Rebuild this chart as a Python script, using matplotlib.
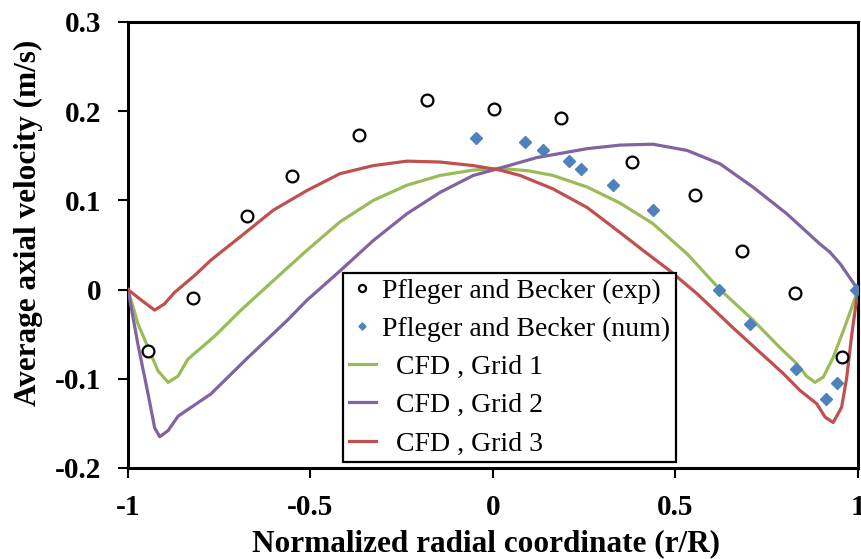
import matplotlib
matplotlib.use("Agg")
import matplotlib.pyplot as plt

# Pfleger and Becker, experimental
exp_x = [-0.945, -0.822, -0.674, -0.551, -0.367, -0.181, 0.003, 0.186,
         0.381, 0.553, 0.682, 0.827, 0.956]
exp_y = [-0.069, -0.009, 0.082, 0.127, 0.173, 0.212, 0.203, 0.192,
         0.143, 0.106, 0.043, -0.004, -0.075]

# Pfleger and Becker, numerical
num_x = [-0.047, 0.088, 0.137, 0.208, 0.241, 0.329, 0.438, 0.619,
         0.704, 0.830, 0.912, 0.942, 0.995]
num_y = [0.170, 0.166, 0.157, 0.144, 0.135, 0.117, 0.089, -0.001,
         -0.039, -0.089, -0.123, -0.105, 0.0]

# CFD, grid 1
g1_x = [-1.0, -0.973, -0.945, -0.918, -0.890, -0.863, -0.836, -0.762, -0.693,
        -0.602, -0.510, -0.419, -0.328, -0.236, -0.145, -0.054, 0.019, 0.1,
        0.164, 0.258, 0.348, 0.438, 0.532, 0.622, 0.712, 0.786, 0.832, 0.859,
        0.882, 0.905, 0.932, 0.960, 0.983, 1.0]
g1_y = [0.0, -0.038, -0.065, -0.091, -0.104, -0.097, -0.078, -0.052, -0.024,
        0.010, 0.044, 0.076, 0.100, 0.117, 0.128, 0.134, 0.136, 0.133,
        0.128, 0.115, 0.097, 0.074, 0.040, 0.0, -0.034, -0.065, -0.083, -0.097,
        -0.104, -0.098, -0.076, -0.046, -0.020, 0.0]

# CFD, grid 2
g2_x = [-1.0, -0.973, -0.945, -0.927, -0.913, -0.890, -0.863, -0.773, -0.671,
        -0.565, -0.510, -0.419, -0.328, -0.236, -0.145, -0.054, 0.0, 0.12,
        0.258, 0.348, 0.438, 0.532, 0.622, 0.712, 0.805, 0.896, 0.923, 0.951,
        1.0]
g2_y = [0.0, -0.061, -0.117, -0.155, -0.165, -0.158, -0.142, -0.117, -0.076,
        -0.035, -0.012, 0.021, 0.055, 0.085, 0.109, 0.128, 0.134, 0.148,
        0.158, 0.162, 0.163, 0.156, 0.141, 0.115, 0.085, 0.051, 0.042, 0.029,
        0.0]

# CFD, grid 3
g3_x = [-1.0, -0.963, -0.927, -0.900, -0.872, -0.817, -0.773, -0.693, -0.602,
        -0.510, -0.419, -0.328, -0.236, -0.145, -0.054, 0.019, 0.074, 0.164,
        0.258, 0.348, 0.411, 0.485, 0.560, 0.658, 0.795, 0.841, 0.887, 0.910,
        0.932, 0.955, 0.969, 0.983, 1.0]
g3_y = [0.0, -0.012, -0.023, -0.016, -0.003, 0.016, 0.033, 0.059, 0.089,
        0.111, 0.130, 0.139, 0.144, 0.143, 0.139, 0.134, 0.128, 0.113,
        0.092, 0.064, 0.044, 0.021, -0.005, -0.043, -0.094, -0.113, -0.128,
        -0.143, -0.149, -0.132, -0.099, -0.050, 0.0]

x_ticks = [-1, -0.5, 0, 0.5, 1]
x_tick_labels = ["-1", "-0.5", "0", "0.5", "1"]
y_ticks = [-0.2, -0.1, 0, 0.1, 0.2, 0.3]
y_tick_labels = ["-0.2", "-0.1", "0", "0.1", "0.2", "0.3"]

plt.rcParams["font.family"] = ["Liberation Serif", "DejaVu Serif"]

fig = plt.figure(figsize=(8.62, 5.59), dpi=100)
ax = fig.add_axes([128 / 862, 1 - 468 / 559, 730 / 862, 446 / 559])

ax.plot(exp_x, exp_y, "o", ms=8.5, mfc="white", mec="black", mew=1.6,
        label="Pfleger and Becker (exp)", zorder=4)
ax.plot(num_x, num_y, "D", ms=6, color="#4F81BD", mec="#4F81BD",
        label="Pfleger and Becker (num)", zorder=4)
line_kw = dict(lw=2.3, solid_joinstyle="round", zorder=3)
ax.plot(g1_x, g1_y, color="#9BBB59", label="  CFD , Grid 1", **line_kw)
ax.plot(g2_x, g2_y, color="#8064A2", label="  CFD , Grid 2", **line_kw)
ax.plot(g3_x, g3_y, color="#C0504D", label="  CFD , Grid 3", **line_kw)

ax.set_xlim(-1, 1)
ax.set_ylim(-0.2, 0.3)
ax.set_xticks(x_ticks)
ax.set_xticklabels(x_tick_labels)
ax.set_yticks(y_ticks)
ax.set_yticklabels(y_tick_labels)
ax.tick_params(direction="out", length=7, width=1.5, pad=12,
               labelsize=21, top=False, right=False)
for lab in ax.get_xticklabels() + ax.get_yticklabels():
    lab.set_fontweight("bold")
for sp in ax.spines.values():
    sp.set_linewidth(2.2)

ax.set_xlabel("Normalized radial coordinate (r/R)", fontsize=22.5,
              fontweight="bold")
ax.set_ylabel("Average axial velocity (m/s)", fontsize=22.5,
              fontweight="bold")
ax.xaxis.set_label_coords(0.49, -0.137)
ax.yaxis.set_label_coords(-0.117, 0.55)

leg = ax.legend(loc="lower left", bbox_to_anchor=(0.2945, 0.0135),
                borderaxespad=0, fontsize=20, fancybox=False, framealpha=1,
                edgecolor="black", handlelength=1.0, handletextpad=0.2,
                labelspacing=0.46, borderpad=0.2, markerscale=0.6)
leg.get_frame().set_linewidth(1.6)

fig.savefig("out.png", dpi=100)
